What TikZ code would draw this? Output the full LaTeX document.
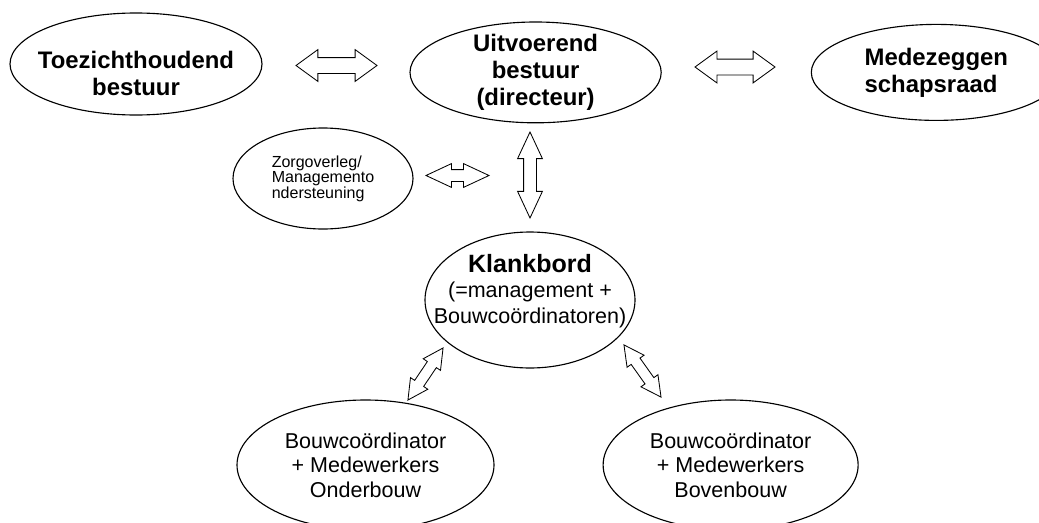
\documentclass[tikz,border=0pt]{standalone}
\usepackage{fontspec}
\setmainfont{Liberation Sans}
\usepackage{tikz}
\usetikzlibrary{positioning, shapes.geometric, shapes.arrows, calc}

\begin{document}
\begin{tikzpicture}[every node/.style={font=\fontsize{15.3}{17.4}\selectfont}]
    % Define the styles
    \tikzset{
        bubble/.style={draw, ellipse, line width=0.8pt, inner sep=-1cm, align=center},
        headtext/.style={font=\bfseries\fontsize{17}{19.2}\selectfont},
        smalltext/.style={font=\fontsize{11.4}{11}\selectfont},
        dblarrow/.style={double arrow, draw, fill=white, line width=0.6pt, inner sep=0pt},
    }
    \path[use as bounding box, fill=white] (0,0) rectangle (25.975,-13.075);

    % Top row
    \node[bubble, headtext, minimum width=6.3cm, minimum height=2.55cm] (toezicht) at (3.40,-1.60) {\rule{0pt}{0.89cm}Toezichthoudend\\bestuur};
    \node[bubble, headtext, minimum width=6.28cm, minimum height=2.52cm] (uitvoerend) at (13.39,-1.81) {Uitvoerend\\bestuur\\(directeur)};
    \node[bubble, headtext, align=left, minimum width=6.25cm, minimum height=2.4cm, right=3.725cm of uitvoerend] (mr) {Medezeggen\\schapsraad};

    % Middle
    \node[bubble, smalltext, align=left, minimum width=4.5cm, minimum height=2.525cm] (zorg) at (8.075,-4.4625) {Zorgoverleg/\\Managemento\\ndersteuning};
    \node[bubble, minimum width=5.25cm, minimum height=3.4cm, font=\fontsize{15.3}{18.1}\selectfont] (klank) at (13.25,-7.5) {{\bfseries\fontsize{17.8}{19}\selectfont Klankbord}\\(=management +\\Bouwco\"ordinatoren)\rule[-0.56cm]{0pt}{0pt}};

    % Bottom row
    \node[bubble, minimum width=6.425cm, minimum height=3.25cm] (onder) at (9.1375,-11.625) {Bouwco\"ordinator\\+ Medewerkers\\Onderbouw};
    \node[bubble, minimum width=6.375cm, minimum height=3.25cm, right=2.7cm of onder] (boven) {Bouwco\"ordinator\\+ Medewerkers\\Bovenbouw};

    % Block arrows between the ellipses (minimum height = length)
    \node[dblarrow, minimum height=2.025cm, inner ysep=0.1875cm, double arrow head extend=0.2cm, double arrow tip angle=72] (a1) at (8.4125,-1.6375) {};
    \node[dblarrow, minimum height=2.0cm, inner ysep=0.1875cm, double arrow head extend=0.2cm, double arrow tip angle=72] (a2) at (18.375,-1.675) {};
    \node[dblarrow, minimum height=1.575cm, inner ysep=0.1375cm, double arrow head extend=0.15cm, double arrow tip angle=50] (a3) at (11.4375,-4.3875) {};
    \node[dblarrow, rotate=90, minimum height=2.15cm, inner ysep=0.15cm, double arrow head extend=0.15cm, double arrow tip angle=50] (a4) at (13.25,-4.375) {};
    \node[dblarrow, rotate=56, minimum height=1.57cm, inner ysep=0.125cm, double arrow head extend=0.125cm, double arrow tip angle=55] (a5) at (10.6375,-9.35) {};
    \node[dblarrow, rotate=-54.6, minimum height=1.6cm, inner ysep=0.125cm, double arrow head extend=0.125cm, double arrow tip angle=55] (a6) at (16.0625,-9.275) {};

\end{tikzpicture}
\end{document}
